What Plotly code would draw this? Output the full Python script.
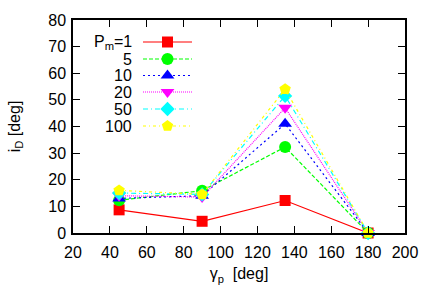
import plotly.graph_objects as go

gamma_p = [45, 90, 135, 180]
series_names = ["P<sub>m</sub>=1", "5", "10", "20", "50", "100"]
iD_pm1 = [8.7, 4.4, 12.2, 0]
iD_pm5 = [12.3, 15.9, 32.3, 0]
iD_pm10 = [13.0, 14.0, 41.0, 0]
iD_pm20 = [14.0, 13.5, 47.0, 0]
iD_pm50 = [15.0, 14.5, 51.5, 0]
iD_pm100 = [16.0, 14.5, 54.0, 0]
series_values = [iD_pm1, iD_pm5, iD_pm10, iD_pm20, iD_pm50, iD_pm100]
x_ticks = [20, 40, 60, 80, 100, 120, 140, 160, 180, 200]
y_ticks = [0, 10, 20, 30, 40, 50, 60, 70, 80]

colors = ["#ff0000", "#00ff00", "#0000ff", "#ff00ff", "#00ffff", "#ffff00"]
dashes = ["solid", "4px,2px", "2px,3px", "1px,1px", "5px,3px,1px,3px", "3px,3px,1px,3px"]
symbols = ["square", "circle", "triangle-up", "triangle-down", "diamond", "pentagon"]
msizes = [11, 12, 12, 12, 11, 12]

W, H = 436, 305
L, R, T, B = 73, 31, 20, 72
pw, ph = W - L - R, H - T - B

fig = go.Figure()
for name, vals, c, d, s, ms in zip(series_names, series_values, colors, dashes, symbols, msizes):
    fig.add_trace(go.Scatter(x=gamma_p, y=vals, mode="lines+markers", name=name,
                             line=dict(color=c, width=1.2, dash=d),
                             marker=dict(color=c, symbol=s, size=ms, line=dict(width=0)),
                             showlegend=False, cliponaxis=False))

# gnuplot-style key drawn in an overlay axis
x0 = (143 - L) / pw
x1 = (192 - L) / pw
xm = (x0 + x1) / 2
rows_px = [42, 59, 75.5, 92, 109, 126]
for i, (name, c, d, s, ms) in enumerate(zip(series_names, colors, dashes, symbols, msizes)):
    yy = (H - B - rows_px[i]) / ph
    fig.add_trace(go.Scatter(x=[x0, xm, x1], y=[yy, yy, yy], mode="lines",
                             line=dict(color=c, width=1.2, dash=d),
                             xaxis="x2", yaxis="y2", showlegend=False, hoverinfo="skip"))
    fig.add_trace(go.Scatter(x=[xm], y=[yy], mode="markers",
                             marker=dict(color=c, symbol=s, size=ms, line=dict(width=0)),
                             xaxis="x2", yaxis="y2", showlegend=False, hoverinfo="skip"))
    fig.add_annotation(x=(134 - L) / pw, y=yy, xref="x2", yref="y2", text=name,
                       showarrow=False, xanchor="right", yanchor="middle",
                       font=dict(size=16, color="black"))

axis_common = dict(showgrid=False, zeroline=False, showline=True, linecolor="black",
                   linewidth=1.5, mirror="ticks", ticks="inside", ticklen=7,
                   tickcolor="black", tickwidth=1.2,
                   tickfont=dict(size=16, color="black"))

fig.update_layout(
    width=W, height=H,
    margin=dict(l=L, r=R, t=T, b=B),
    paper_bgcolor="white", plot_bgcolor="white",
    font=dict(family="Liberation Sans, Arial, sans-serif", size=16, color="black"),
    xaxis=dict(range=[20, 200], tickvals=x_ticks, ticktext=[str(v) for v in x_ticks],
               ticklabelstandoff=4,
               title=dict(text="γ<sub>p</sub>  [deg]", standoff=8, font=dict(size=16)),
               **axis_common),
    yaxis=dict(range=[0, 80], tickvals=y_ticks, ticktext=[str(v) for v in y_ticks],
               ticklabelstandoff=2,
               title=dict(text="i<sub>D</sub> [deg]", standoff=24, font=dict(size=16)),
               **axis_common),
    xaxis2=dict(range=[0, 1], domain=[0, 1], overlaying="x", visible=False, anchor="y2"),
    yaxis2=dict(range=[0, 1], domain=[0, 1], overlaying="y", visible=False, anchor="x2"),
)

fig.write_html("out.html", config={"displayModeBar": False},
               post_script="document.body.style.margin='0';")
